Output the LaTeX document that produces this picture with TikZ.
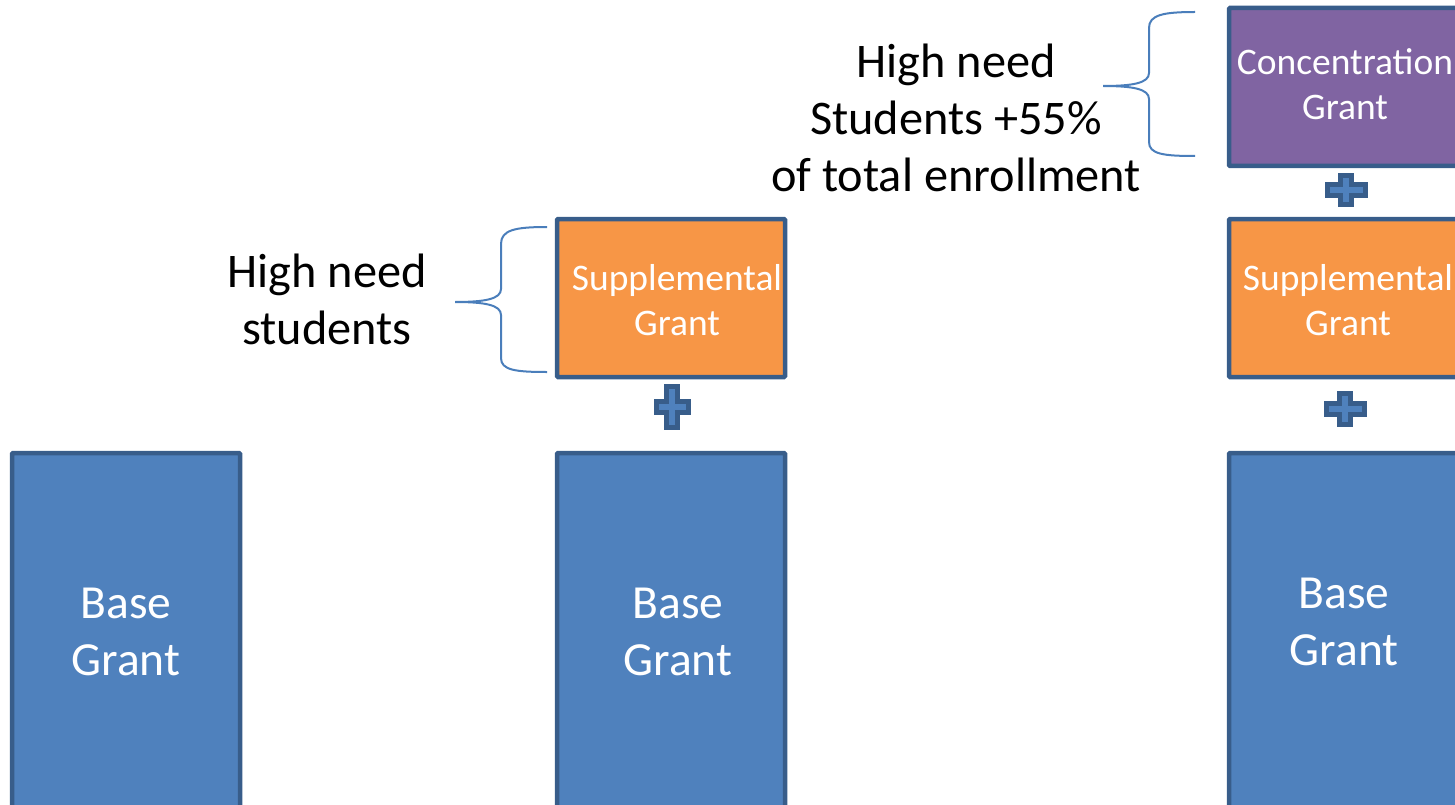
\documentclass[tikz,border=0pt]{standalone}
\usepackage{fontspec}
\setmainfont{Carlito}
\definecolor{bfill}{HTML}{4F81BD}
\definecolor{bedge}{HTML}{385D8A}
\definecolor{ofill}{HTML}{F79646}
\definecolor{pfill}{HTML}{8064A2}
\definecolor{brc}{HTML}{4A7EBB}
\newcommand{\plusmark}[4]{%
  \begin{scope}[shift={(#1,#2)}]
    \pgfmathsetmacro\plw{#3/2}\pgfmathsetmacro\plh{#4/2}\def\plt{5.5}
    \filldraw[plusst] (-\plt,-\plh) -- (\plt,-\plh) -- (\plt,-\plt) -- (\plw,-\plt) -- (\plw,\plt) -- (\plt,\plt) -- (\plt,\plh) -- (-\plt,\plh) -- (-\plt,\plt) -- (-\plw,\plt) -- (-\plw,-\plt) -- (-\plt,-\plt) -- cycle;
  \end{scope}}
\begin{document}
\begin{tikzpicture}[x=1pt,y=-1pt,
  box/.style={draw=bedge, line width=4.5pt, rounded corners=1pt, inner sep=0pt},
  wlbl/.style={text=white, align=center, inner sep=0pt},
  biglbl/.style={wlbl, font=\fontsize{47.5}{57}\selectfont},
  smllbl/.style={wlbl, font=\fontsize{37.5}{45}\selectfont},
  note/.style={text=black, align=center, inner sep=0pt, font=\fontsize{48.3}{57}\selectfont},
  plusst/.style={fill=bfill, draw=bedge, line width=5pt, line join=miter},
  brace/.style={draw=brc, line width=2pt}]
\useasboundingbox (0,0) rectangle (1455,805);
% base grants
\node[box, fill=bfill, minimum width=228, minimum height=357] (base1) at (126,631.5) {};
\node[box, fill=bfill, minimum width=228, minimum height=357] (base2) at (671,631.5) {};
\node[box, fill=bfill, minimum width=232, minimum height=357] (base3) at (1345,631.5) {};
\node[biglbl] (b1t) at (126,632) {Base\\Grant};
\node[biglbl] (b2t) at (678,632) {Base\\Grant};
\node[biglbl] (b3t) at (1344,622) {Base\\Grant};
% supplemental
\node[box, fill=ofill, minimum width=228, minimum height=158] (sup1) at (671,298) {};
\node[box, fill=ofill, minimum width=232, minimum height=158] (sup2) at (1345,298) {};
\node[smllbl] (s1t) at (677,300) {Supplemental\\Grant};
\node[smllbl] (s2t) at (1348,300) {Supplemental\\Grant};
% concentration
\node[box, fill=pfill, minimum width=232, minimum height=158] (con) at (1345,87) {};
\node[smllbl] (ct) at (1345,84) {Concentration\\Grant};
% plus signs
\plusmark{672}{407}{32}{41}
\plusmark{1345}{409}{38}{31}
\plusmark{1346}{190}{38}{29}
% braces
\draw[brace] (547,227) .. controls (515,227) and (501,230) .. (501,244)
  -- (501,289) .. controls (501,299) and (485,302) .. (455,302)
  .. controls (485,302) and (501,305) .. (501,315)
  -- (501,358) .. controls (501,370) and (515,372) .. (547,372);
\draw[brace] (1195,12) .. controls (1163,12) and (1149,15) .. (1149,28)
  -- (1149,73) .. controls (1149,83) and (1133,86) .. (1103,86)
  .. controls (1133,86) and (1149,89) .. (1149,99)
  -- (1149,142) .. controls (1149,154) and (1163,156) .. (1195,156);
% notes
\node[note] (n1) at (327,299) {High need\\students};
\node[note] (n2) at (956,118) {High need\\Students +55\%\\of total enrollment};
\end{tikzpicture}
\end{document}
